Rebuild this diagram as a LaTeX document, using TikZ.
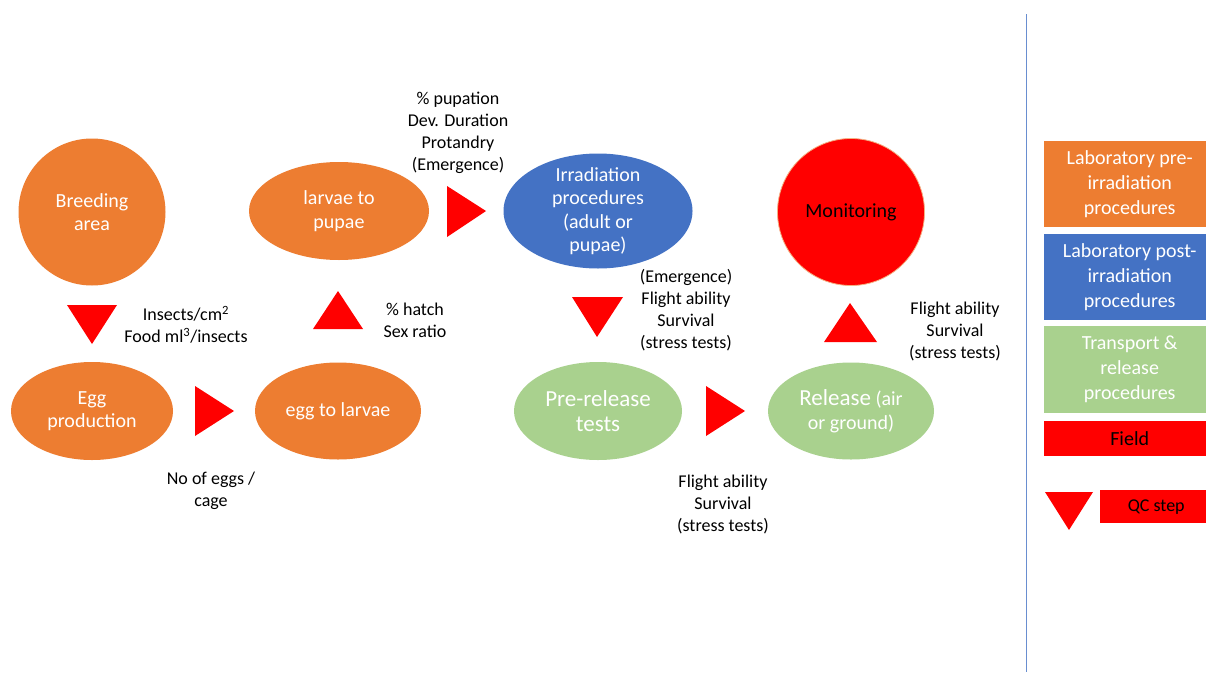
\documentclass[tikz,border=0pt]{standalone}
\usepackage{fontspec}
\setmainfont{Carlito}
\usetikzlibrary{shapes.geometric}
\definecolor{corange}{HTML}{ED7D31}
\definecolor{cblue}{HTML}{4472C4}
\definecolor{cgreen}{HTML}{A9D18E}
\definecolor{cred}{HTML}{FF0000}
\definecolor{cborder}{HTML}{F4B183}
\begin{document}
\begin{tikzpicture}[x=1pt,y=-1pt,
  stage/.style={ellipse, inner sep=0pt, draw=none},
  round/.style={circle, inner sep=0pt, draw=none},
  stagetext/.style={align=center, text=white, inner sep=0pt, font=\fontsize{20}{23.5}\selectfont},
  qclabel/.style={align=center, text=black, inner sep=0pt, font=\fontsize{18}{22}\selectfont},
  legbox/.style={rectangle, inner sep=0pt, anchor=north west, align=center, font=\fontsize{20}{25}\selectfont},
  qc/.style={fill=cred, draw=none}]
\useasboundingbox (0,0) rectangle (1206,672);
\fill[white] (0,0) rectangle (1206,672);

% stages
\node[round, fill=corange, minimum size=147] (breed) at (92,212) {};
\node[stagetext] at (breed) {Breeding\\area};
\node[stage, fill=corange, minimum width=162, minimum height=98] (egg) at (92,411) {};
\node[stagetext] at (egg) {Egg\\production};
\node[stage, fill=corange, minimum width=166, minimum height=97] (egglarv) at (338,411) {};
\node[stagetext] at (egglarv) {egg to larvae};
\node[stage, fill=corange, minimum width=180, minimum height=98] (larvpup) at (339,211) {};
\node[stagetext] at (larvpup) {larvae to\\pupae};
\node[stage, fill=cblue, minimum width=189, minimum height=115] (irr) at (598,211) {};
\node[stagetext] at (irr) {Irradiation\\procedures\\(adult or\\pupae)};
\node[stage, fill=cgreen, minimum width=168, minimum height=98] (pre) at (598,411) {};
\node[stagetext, font=\fontsize{23}{25}\selectfont] at (pre) {Pre-release\\tests};
\node[stage, fill=cgreen, minimum width=166, minimum height=97] (rel) at (851,411) {};
\node[stagetext] at (rel) {{\fontsize{23}{25}\selectfont Release} (air\\or ground)};
\node[round, fill=cred, draw=cborder, line width=0.8, minimum size=147] (mon) at (851,212) {};
\node[stagetext, text=black] at (mon) {Monitoring};

% QC triangles
\fill[qc] (67,305) -- (117,305) -- (92,344) -- cycle;
\fill[qc] (195,386) -- (234,411) -- (195,436) -- cycle;
\fill[qc] (313,329) -- (363,329) -- (338,291) -- cycle;
\fill[qc] (447,186) -- (486,211) -- (447,237) -- cycle;
\fill[qc] (572,297) -- (623,297) -- (597,337) -- cycle;
\fill[qc] (706,386) -- (745,411) -- (706,436) -- cycle;
\fill[qc] (824,342) -- (877,342) -- (850,303) -- cycle;

% QC labels
\node[qclabel] (l1) at (186,325) {Insects/cm\textsuperscript{2}\\Food ml\textsuperscript{3}/insects};
\node[qclabel] (l2) at (211,491) {No of eggs /\\cage};
\node[qclabel] (l3) at (415,320) {\% hatch\\Sex ratio};
\node[qclabel] (l4) at (458,133) {\% pupation\\Dev. Duration\\Protandry\\(Emergence)};
\node[qclabel] (l5) at (686,310) {(Emergence)\\Flight ability\\Survival\\(stress tests)};
\node[qclabel] (l6) at (723,504) {Flight ability\\Survival\\(stress tests)};
\node[qclabel] (l7) at (955,331) {Flight ability\\Survival\\(stress tests)};

% divider
\draw[cblue!80, line width=0.8] (1026,14) -- (1026,672);

% legend
\node[legbox, fill=corange, text=white, minimum width=171, minimum height=86] (lg1) at (1044,141) {Laboratory pre-\\irradiation\\procedures};
\node[legbox, fill=cblue, text=white, minimum width=171, minimum height=86] (lg2) at (1044,234) {Laboratory post-\\irradiation\\procedures};
\node[legbox, fill=cgreen, text=white, minimum width=171, minimum height=87] (lg3) at (1044,326) {Transport \&\\release\\procedures};
\node[legbox, fill=cred, text=black, minimum width=171, minimum height=35] (lg4) at (1044,421) {Field};
\fill[qc] (1045,492) -- (1093,492) -- (1069,530) -- cycle;
\node[legbox, fill=cred, text=black, minimum width=112, minimum height=33, font=\fontsize{18}{22}\selectfont] (lg5) at (1100,490) {QC step};
\end{tikzpicture}
\end{document}
